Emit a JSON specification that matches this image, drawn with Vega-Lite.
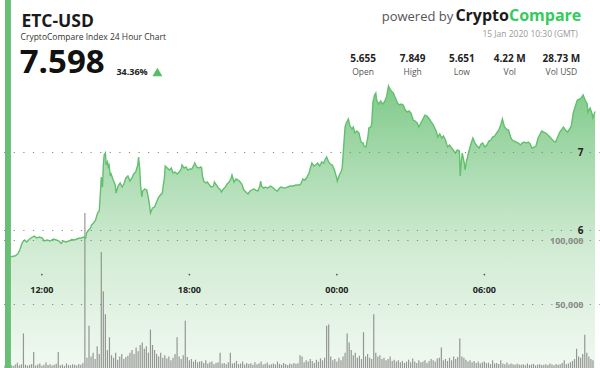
{
  "$schema": "https://vega.github.io/schema/vega-lite/v6.json",
  "width": 600,
  "height": 368,
  "autosize": {"type": "none"},
  "padding": 0,
  "background": "white",
  "config": {"view": {"stroke": null}, "font": "Open Sans", "axis": {"zindex": 1}},
  "datasets": {
    "price": [
      {"t":"2020-01-14T10:30Z","p":5.654},{"t":"2020-01-14T10:37Z","p":5.654},{"t":"2020-01-14T10:47Z","p":5.66},{"t":"2020-01-14T10:54Z","p":5.667},
      {"t":"2020-01-14T11:01Z","p":5.692},{"t":"2020-01-14T11:06Z","p":5.744},{"t":"2020-01-14T11:11Z","p":5.82},{"t":"2020-01-14T11:13Z","p":5.846},
      {"t":"2020-01-14T11:18Z","p":5.872},{"t":"2020-01-14T11:23Z","p":5.846},{"t":"2020-01-14T11:30Z","p":5.885},{"t":"2020-01-14T11:37Z","p":5.91},
      {"t":"2020-01-14T11:42Z","p":5.923},{"t":"2020-01-14T11:47Z","p":5.897},{"t":"2020-01-14T11:54Z","p":5.91},{"t":"2020-01-14T12:01Z","p":5.897},
      {"t":"2020-01-14T12:06Z","p":5.859},{"t":"2020-01-14T12:13Z","p":5.872},{"t":"2020-01-14T12:20Z","p":5.859},{"t":"2020-01-14T12:28Z","p":5.885},
      {"t":"2020-01-14T12:35Z","p":5.872},{"t":"2020-01-14T12:42Z","p":5.859},{"t":"2020-01-14T12:47Z","p":5.827},{"t":"2020-01-14T12:52Z","p":5.859},
      {"t":"2020-01-14T12:59Z","p":5.846},{"t":"2020-01-14T13:06Z","p":5.859},{"t":"2020-01-14T13:13Z","p":5.878},{"t":"2020-01-14T13:20Z","p":5.872},
      {"t":"2020-01-14T13:28Z","p":5.891},{"t":"2020-01-14T13:35Z","p":5.897},{"t":"2020-01-14T13:42Z","p":5.91},{"t":"2020-01-14T13:47Z","p":5.897},
      {"t":"2020-01-14T13:49Z","p":5.962},{"t":"2020-01-14T13:54Z","p":6.0},{"t":"2020-01-14T13:59Z","p":6.026},{"t":"2020-01-14T14:01Z","p":6.064},
      {"t":"2020-01-14T14:06Z","p":6.09},{"t":"2020-01-14T14:11Z","p":6.128},{"t":"2020-01-14T14:16Z","p":6.218},{"t":"2020-01-14T14:20Z","p":6.244},
      {"t":"2020-01-14T14:23Z","p":6.487},{"t":"2020-01-14T14:25Z","p":6.679},{"t":"2020-01-14T14:28Z","p":6.551},{"t":"2020-01-14T14:30Z","p":6.833},
      {"t":"2020-01-14T14:32Z","p":6.962},{"t":"2020-01-14T14:35Z","p":6.987},{"t":"2020-01-14T14:37Z","p":6.833},{"t":"2020-01-14T14:40Z","p":6.872},
      {"t":"2020-01-14T14:42Z","p":6.808},{"t":"2020-01-14T14:44Z","p":6.833},{"t":"2020-01-14T14:47Z","p":6.692},{"t":"2020-01-14T14:49Z","p":6.718},
      {"t":"2020-01-14T14:54Z","p":6.641},{"t":"2020-01-14T14:59Z","p":6.577},{"t":"2020-01-14T15:01Z","p":6.474},{"t":"2020-01-14T15:06Z","p":6.564},
      {"t":"2020-01-14T15:11Z","p":6.603},{"t":"2020-01-14T15:16Z","p":6.551},{"t":"2020-01-14T15:20Z","p":6.59},{"t":"2020-01-14T15:25Z","p":6.667},
      {"t":"2020-01-14T15:30Z","p":6.692},{"t":"2020-01-14T15:35Z","p":6.628},{"t":"2020-01-14T15:40Z","p":6.667},{"t":"2020-01-14T15:44Z","p":6.718},
      {"t":"2020-01-14T15:49Z","p":6.744},{"t":"2020-01-14T15:54Z","p":6.833},{"t":"2020-01-14T15:56Z","p":6.936},{"t":"2020-01-14T15:59Z","p":6.769},
      {"t":"2020-01-14T16:01Z","p":6.564},{"t":"2020-01-14T16:04Z","p":6.423},{"t":"2020-01-14T16:06Z","p":6.5},{"t":"2020-01-14T16:11Z","p":6.526},
      {"t":"2020-01-14T16:16Z","p":6.513},{"t":"2020-01-14T16:20Z","p":6.41},{"t":"2020-01-14T16:23Z","p":6.308},{"t":"2020-01-14T16:25Z","p":6.218},
      {"t":"2020-01-14T16:30Z","p":6.282},{"t":"2020-01-14T16:35Z","p":6.295},{"t":"2020-01-14T16:40Z","p":6.359},{"t":"2020-01-14T16:44Z","p":6.41},
      {"t":"2020-01-14T16:49Z","p":6.449},{"t":"2020-01-14T16:54Z","p":6.474},{"t":"2020-01-14T16:56Z","p":6.564},{"t":"2020-01-14T16:59Z","p":6.667},
      {"t":"2020-01-14T17:01Z","p":6.821},{"t":"2020-01-14T17:06Z","p":6.795},{"t":"2020-01-14T17:11Z","p":6.769},{"t":"2020-01-14T17:16Z","p":6.795},
      {"t":"2020-01-14T17:20Z","p":6.731},{"t":"2020-01-14T17:25Z","p":6.744},{"t":"2020-01-14T17:30Z","p":6.718},{"t":"2020-01-14T17:35Z","p":6.744},
      {"t":"2020-01-14T17:40Z","p":6.782},{"t":"2020-01-14T17:42Z","p":6.833},{"t":"2020-01-14T17:47Z","p":6.795},{"t":"2020-01-14T17:52Z","p":6.808},
      {"t":"2020-01-14T17:56Z","p":6.769},{"t":"2020-01-14T18:01Z","p":6.782},{"t":"2020-01-14T18:06Z","p":6.782},{"t":"2020-01-14T18:11Z","p":6.833},
      {"t":"2020-01-14T18:13Z","p":6.859},{"t":"2020-01-14T18:18Z","p":6.808},{"t":"2020-01-14T18:23Z","p":6.795},{"t":"2020-01-14T18:28Z","p":6.808},
      {"t":"2020-01-14T18:30Z","p":6.795},{"t":"2020-01-14T18:32Z","p":6.692},{"t":"2020-01-14T18:35Z","p":6.628},{"t":"2020-01-14T18:40Z","p":6.603},
      {"t":"2020-01-14T18:44Z","p":6.615},{"t":"2020-01-14T18:49Z","p":6.577},{"t":"2020-01-14T18:54Z","p":6.551},{"t":"2020-01-14T18:59Z","p":6.564},
      {"t":"2020-01-14T19:01Z","p":6.615},{"t":"2020-01-14T19:06Z","p":6.577},{"t":"2020-01-14T19:11Z","p":6.538},{"t":"2020-01-14T19:16Z","p":6.513},
      {"t":"2020-01-14T19:18Z","p":6.487},{"t":"2020-01-14T19:23Z","p":6.526},{"t":"2020-01-14T19:28Z","p":6.551},{"t":"2020-01-14T19:32Z","p":6.59},
      {"t":"2020-01-14T19:37Z","p":6.615},{"t":"2020-01-14T19:42Z","p":6.667},{"t":"2020-01-14T19:44Z","p":6.705},{"t":"2020-01-14T19:49Z","p":6.615},
      {"t":"2020-01-14T19:54Z","p":6.654},{"t":"2020-01-14T19:59Z","p":6.641},{"t":"2020-01-14T20:04Z","p":6.615},{"t":"2020-01-14T20:08Z","p":6.59},
      {"t":"2020-01-14T20:13Z","p":6.513},{"t":"2020-01-14T20:18Z","p":6.487},{"t":"2020-01-14T20:23Z","p":6.462},{"t":"2020-01-14T20:28Z","p":6.5},
      {"t":"2020-01-14T20:32Z","p":6.513},{"t":"2020-01-14T20:37Z","p":6.526},{"t":"2020-01-14T20:42Z","p":6.513},{"t":"2020-01-14T20:47Z","p":6.5},
      {"t":"2020-01-14T20:52Z","p":6.564},{"t":"2020-01-14T20:54Z","p":6.628},{"t":"2020-01-14T20:56Z","p":6.564},{"t":"2020-01-14T21:01Z","p":6.538},
      {"t":"2020-01-14T21:06Z","p":6.551},{"t":"2020-01-14T21:11Z","p":6.538},{"t":"2020-01-14T21:18Z","p":6.564},{"t":"2020-01-14T21:25Z","p":6.538},
      {"t":"2020-01-14T21:30Z","p":6.513},{"t":"2020-01-14T21:35Z","p":6.5},{"t":"2020-01-14T21:40Z","p":6.538},{"t":"2020-01-14T21:44Z","p":6.551},
      {"t":"2020-01-14T21:52Z","p":6.538},{"t":"2020-01-14T21:59Z","p":6.551},{"t":"2020-01-14T22:06Z","p":6.564},{"t":"2020-01-14T22:13Z","p":6.564},
      {"t":"2020-01-14T22:20Z","p":6.577},{"t":"2020-01-14T22:28Z","p":6.577},{"t":"2020-01-14T22:32Z","p":6.59},{"t":"2020-01-14T22:37Z","p":6.654},
      {"t":"2020-01-14T22:42Z","p":6.641},{"t":"2020-01-14T22:47Z","p":6.679},{"t":"2020-01-14T22:52Z","p":6.731},{"t":"2020-01-14T22:56Z","p":6.808},
      {"t":"2020-01-14T22:59Z","p":6.859},{"t":"2020-01-14T23:04Z","p":6.821},{"t":"2020-01-14T23:08Z","p":6.833},{"t":"2020-01-14T23:13Z","p":6.859},
      {"t":"2020-01-14T23:18Z","p":6.821},{"t":"2020-01-14T23:23Z","p":6.872},{"t":"2020-01-14T23:28Z","p":6.859},{"t":"2020-01-14T23:32Z","p":6.91},
      {"t":"2020-01-14T23:35Z","p":6.936},{"t":"2020-01-14T23:40Z","p":6.872},{"t":"2020-01-14T23:44Z","p":6.846},{"t":"2020-01-14T23:49Z","p":6.833},
      {"t":"2020-01-14T23:54Z","p":6.769},{"t":"2020-01-14T23:59Z","p":6.679},{"t":"2020-01-15T00:01Z","p":6.628},{"t":"2020-01-15T00:06Z","p":6.705},
      {"t":"2020-01-15T00:11Z","p":6.756},{"t":"2020-01-15T00:13Z","p":6.795},{"t":"2020-01-15T00:16Z","p":7.026},{"t":"2020-01-15T00:20Z","p":7.321},
      {"t":"2020-01-15T00:23Z","p":7.372},{"t":"2020-01-15T00:28Z","p":7.423},{"t":"2020-01-15T00:32Z","p":7.333},{"t":"2020-01-15T00:37Z","p":7.295},
      {"t":"2020-01-15T00:40Z","p":7.321},{"t":"2020-01-15T00:44Z","p":7.244},{"t":"2020-01-15T00:49Z","p":7.269},{"t":"2020-01-15T00:54Z","p":7.244},
      {"t":"2020-01-15T00:59Z","p":7.128},{"t":"2020-01-15T01:04Z","p":7.115},{"t":"2020-01-15T01:06Z","p":7.077},{"t":"2020-01-15T01:11Z","p":7.064},
      {"t":"2020-01-15T01:16Z","p":7.205},{"t":"2020-01-15T01:18Z","p":7.308},{"t":"2020-01-15T01:23Z","p":7.321},{"t":"2020-01-15T01:25Z","p":7.359},
      {"t":"2020-01-15T01:28Z","p":7.641},{"t":"2020-01-15T01:32Z","p":7.731},{"t":"2020-01-15T01:35Z","p":7.756},{"t":"2020-01-15T01:37Z","p":7.667},
      {"t":"2020-01-15T01:42Z","p":7.615},{"t":"2020-01-15T01:47Z","p":7.654},{"t":"2020-01-15T01:52Z","p":7.615},{"t":"2020-01-15T01:56Z","p":7.641},
      {"t":"2020-01-15T02:01Z","p":7.705},{"t":"2020-01-15T02:06Z","p":7.846},{"t":"2020-01-15T02:08Z","p":7.821},{"t":"2020-01-15T02:13Z","p":7.782},
      {"t":"2020-01-15T02:18Z","p":7.756},{"t":"2020-01-15T02:23Z","p":7.692},{"t":"2020-01-15T02:28Z","p":7.628},{"t":"2020-01-15T02:32Z","p":7.603},
      {"t":"2020-01-15T02:37Z","p":7.615},{"t":"2020-01-15T02:42Z","p":7.603},{"t":"2020-01-15T02:47Z","p":7.538},{"t":"2020-01-15T02:52Z","p":7.513},
      {"t":"2020-01-15T02:56Z","p":7.526},{"t":"2020-01-15T03:01Z","p":7.5},{"t":"2020-01-15T03:06Z","p":7.41},{"t":"2020-01-15T03:11Z","p":7.397},
      {"t":"2020-01-15T03:16Z","p":7.372},{"t":"2020-01-15T03:20Z","p":7.321},{"t":"2020-01-15T03:25Z","p":7.372},{"t":"2020-01-15T03:30Z","p":7.423},
      {"t":"2020-01-15T03:35Z","p":7.474},{"t":"2020-01-15T03:40Z","p":7.462},{"t":"2020-01-15T03:44Z","p":7.436},{"t":"2020-01-15T03:49Z","p":7.397},
      {"t":"2020-01-15T03:54Z","p":7.359},{"t":"2020-01-15T03:59Z","p":7.308},{"t":"2020-01-15T04:04Z","p":7.244},{"t":"2020-01-15T04:06Z","p":7.192},
      {"t":"2020-01-15T04:11Z","p":7.231},{"t":"2020-01-15T04:16Z","p":7.179},{"t":"2020-01-15T04:20Z","p":7.205},{"t":"2020-01-15T04:25Z","p":7.154},
      {"t":"2020-01-15T04:30Z","p":7.064},{"t":"2020-01-15T04:35Z","p":7.09},{"t":"2020-01-15T04:40Z","p":7.051},{"t":"2020-01-15T04:44Z","p":7.026},
      {"t":"2020-01-15T04:49Z","p":6.987},{"t":"2020-01-15T04:54Z","p":7.026},{"t":"2020-01-15T04:59Z","p":7.013},{"t":"2020-01-15T05:01Z","p":6.692},
      {"t":"2020-01-15T05:04Z","p":6.897},{"t":"2020-01-15T05:06Z","p":6.987},{"t":"2020-01-15T05:11Z","p":6.859},{"t":"2020-01-15T05:13Z","p":6.769},
      {"t":"2020-01-15T05:16Z","p":6.872},{"t":"2020-01-15T05:20Z","p":6.962},{"t":"2020-01-15T05:23Z","p":7.026},{"t":"2020-01-15T05:28Z","p":7.115},
      {"t":"2020-01-15T05:32Z","p":7.179},{"t":"2020-01-15T05:37Z","p":7.115},{"t":"2020-01-15T05:42Z","p":7.077},{"t":"2020-01-15T05:47Z","p":7.051},
      {"t":"2020-01-15T05:52Z","p":7.103},{"t":"2020-01-15T05:56Z","p":7.115},{"t":"2020-01-15T06:01Z","p":7.064},{"t":"2020-01-15T06:06Z","p":7.09},
      {"t":"2020-01-15T06:11Z","p":7.141},{"t":"2020-01-15T06:16Z","p":7.154},{"t":"2020-01-15T06:20Z","p":7.192},{"t":"2020-01-15T06:25Z","p":7.205},
      {"t":"2020-01-15T06:30Z","p":7.244},{"t":"2020-01-15T06:35Z","p":7.282},{"t":"2020-01-15T06:40Z","p":7.346},{"t":"2020-01-15T06:44Z","p":7.423},
      {"t":"2020-01-15T06:49Z","p":7.321},{"t":"2020-01-15T06:54Z","p":7.295},{"t":"2020-01-15T06:59Z","p":7.282},{"t":"2020-01-15T07:04Z","p":7.192},
      {"t":"2020-01-15T07:08Z","p":7.154},{"t":"2020-01-15T07:13Z","p":7.141},{"t":"2020-01-15T07:18Z","p":7.128},{"t":"2020-01-15T07:23Z","p":7.115},
      {"t":"2020-01-15T07:28Z","p":7.09},{"t":"2020-01-15T07:32Z","p":7.115},{"t":"2020-01-15T07:37Z","p":7.128},{"t":"2020-01-15T07:42Z","p":7.115},
      {"t":"2020-01-15T07:47Z","p":7.128},{"t":"2020-01-15T07:52Z","p":7.103},{"t":"2020-01-15T07:56Z","p":7.051},{"t":"2020-01-15T08:01Z","p":7.064},
      {"t":"2020-01-15T08:06Z","p":7.077},{"t":"2020-01-15T08:11Z","p":7.179},{"t":"2020-01-15T08:16Z","p":7.231},{"t":"2020-01-15T08:20Z","p":7.269},
      {"t":"2020-01-15T08:25Z","p":7.256},{"t":"2020-01-15T08:30Z","p":7.244},{"t":"2020-01-15T08:35Z","p":7.218},{"t":"2020-01-15T08:40Z","p":7.192},
      {"t":"2020-01-15T08:44Z","p":7.167},{"t":"2020-01-15T08:49Z","p":7.141},{"t":"2020-01-15T08:54Z","p":7.128},{"t":"2020-01-15T08:59Z","p":7.192},
      {"t":"2020-01-15T09:04Z","p":7.256},{"t":"2020-01-15T09:08Z","p":7.282},{"t":"2020-01-15T09:13Z","p":7.321},{"t":"2020-01-15T09:18Z","p":7.282},
      {"t":"2020-01-15T09:23Z","p":7.256},{"t":"2020-01-15T09:28Z","p":7.295},{"t":"2020-01-15T09:32Z","p":7.333},{"t":"2020-01-15T09:37Z","p":7.5},
      {"t":"2020-01-15T09:42Z","p":7.59},{"t":"2020-01-15T09:47Z","p":7.667},{"t":"2020-01-15T09:52Z","p":7.679},{"t":"2020-01-15T09:56Z","p":7.692},
      {"t":"2020-01-15T10:01Z","p":7.731},{"t":"2020-01-15T10:06Z","p":7.667},{"t":"2020-01-15T10:11Z","p":7.615},{"t":"2020-01-15T10:13Z","p":7.513},
      {"t":"2020-01-15T10:18Z","p":7.564},{"t":"2020-01-15T10:23Z","p":7.487},{"t":"2020-01-15T10:25Z","p":7.436},{"t":"2020-01-15T10:30Z","p":7.52}
    ],
    "vol": [
      {"t":"2020-01-14T10:30Z","v":2100},{"t":"2020-01-14T10:35Z","v":1800},{"t":"2020-01-14T10:40Z","v":3200},{"t":"2020-01-14T10:45Z","v":2500},{"t":"2020-01-14T10:50Z","v":1600},{"t":"2020-01-14T10:55Z","v":2800},
      {"t":"2020-01-14T11:00Z","v":4100},{"t":"2020-01-14T11:05Z","v":2200},{"t":"2020-01-14T11:10Z","v":3000},{"t":"2020-01-14T11:15Z","v":27000},{"t":"2020-01-14T11:20Z","v":2600},{"t":"2020-01-14T11:25Z","v":1900},
      {"t":"2020-01-14T11:30Z","v":2400},{"t":"2020-01-14T11:35Z","v":3100},{"t":"2020-01-14T11:40Z","v":12500},{"t":"2020-01-14T11:45Z","v":2000},{"t":"2020-01-14T11:50Z","v":2700},{"t":"2020-01-14T11:55Z","v":3500},
      {"t":"2020-01-14T12:00Z","v":1800},{"t":"2020-01-14T12:05Z","v":2600},{"t":"2020-01-14T12:10Z","v":4200},{"t":"2020-01-14T12:15Z","v":2300},{"t":"2020-01-14T12:20Z","v":3000},{"t":"2020-01-14T12:25Z","v":1900},
      {"t":"2020-01-14T12:30Z","v":2500},{"t":"2020-01-14T12:35Z","v":3300},{"t":"2020-01-14T12:40Z","v":12500},{"t":"2020-01-14T12:45Z","v":2200},{"t":"2020-01-14T12:50Z","v":2800},{"t":"2020-01-14T12:55Z","v":1700},
      {"t":"2020-01-14T13:00Z","v":3600},{"t":"2020-01-14T13:05Z","v":2400},{"t":"2020-01-14T13:10Z","v":2100},{"t":"2020-01-14T13:15Z","v":3000},{"t":"2020-01-14T13:20Z","v":2600},{"t":"2020-01-14T13:25Z","v":1900},
      {"t":"2020-01-14T13:30Z","v":3200},{"t":"2020-01-14T13:35Z","v":2500},{"t":"2020-01-14T13:40Z","v":4000},{"t":"2020-01-14T13:45Z","v":121000},{"t":"2020-01-14T13:50Z","v":8000},{"t":"2020-01-14T13:55Z","v":33000},
      {"t":"2020-01-14T14:00Z","v":9000},{"t":"2020-01-14T14:05Z","v":12000},{"t":"2020-01-14T14:10Z","v":7000},{"t":"2020-01-14T14:15Z","v":17000},{"t":"2020-01-14T14:20Z","v":11000},{"t":"2020-01-14T14:25Z","v":90600},
      {"t":"2020-01-14T14:30Z","v":60000},{"t":"2020-01-14T14:35Z","v":42000},{"t":"2020-01-14T14:40Z","v":14000},{"t":"2020-01-14T14:45Z","v":24000},{"t":"2020-01-14T14:50Z","v":10000},{"t":"2020-01-14T14:55Z","v":8000},
      {"t":"2020-01-14T15:00Z","v":12000},{"t":"2020-01-14T15:05Z","v":6500},{"t":"2020-01-14T15:10Z","v":9000},{"t":"2020-01-14T15:15Z","v":11000},{"t":"2020-01-14T15:20Z","v":7000},{"t":"2020-01-14T15:25Z","v":8500},
      {"t":"2020-01-14T15:30Z","v":9500},{"t":"2020-01-14T15:35Z","v":12000},{"t":"2020-01-14T15:40Z","v":14000},{"t":"2020-01-14T15:45Z","v":11000},{"t":"2020-01-14T15:50Z","v":16000},{"t":"2020-01-14T15:55Z","v":13000},
      {"t":"2020-01-14T16:00Z","v":18000},{"t":"2020-01-14T16:05Z","v":20000},{"t":"2020-01-14T16:10Z","v":15000},{"t":"2020-01-14T16:15Z","v":17000},{"t":"2020-01-14T16:20Z","v":12000},{"t":"2020-01-14T16:25Z","v":30000},
      {"t":"2020-01-14T16:30Z","v":18000},{"t":"2020-01-14T16:35Z","v":14000},{"t":"2020-01-14T16:40Z","v":11000},{"t":"2020-01-14T16:45Z","v":9000},{"t":"2020-01-14T16:50Z","v":12000},{"t":"2020-01-14T16:55Z","v":8000},
      {"t":"2020-01-14T17:00Z","v":10000},{"t":"2020-01-14T17:05Z","v":7500},{"t":"2020-01-14T17:10Z","v":9000},{"t":"2020-01-14T17:15Z","v":6000},{"t":"2020-01-14T17:20Z","v":8000},{"t":"2020-01-14T17:25Z","v":11000},
      {"t":"2020-01-14T17:30Z","v":24000},{"t":"2020-01-14T17:35Z","v":9000},{"t":"2020-01-14T17:40Z","v":7000},{"t":"2020-01-14T17:45Z","v":10000},{"t":"2020-01-14T17:50Z","v":37000},{"t":"2020-01-14T17:55Z","v":8500},
      {"t":"2020-01-14T18:00Z","v":6000},{"t":"2020-01-14T18:05Z","v":7000},{"t":"2020-01-14T18:10Z","v":5000},{"t":"2020-01-14T18:15Z","v":6500},{"t":"2020-01-14T18:20Z","v":4500},{"t":"2020-01-14T18:25Z","v":5000},
      {"t":"2020-01-14T18:30Z","v":5500},{"t":"2020-01-14T18:35Z","v":4000},{"t":"2020-01-14T18:40Z","v":6000},{"t":"2020-01-14T18:45Z","v":3500},{"t":"2020-01-14T18:50Z","v":4500},{"t":"2020-01-14T18:55Z","v":5000},
      {"t":"2020-01-14T19:00Z","v":3000},{"t":"2020-01-14T19:05Z","v":4000},{"t":"2020-01-14T19:10Z","v":4500},{"t":"2020-01-14T19:15Z","v":12000},{"t":"2020-01-14T19:20Z","v":3500},{"t":"2020-01-14T19:25Z","v":4000},
      {"t":"2020-01-14T19:30Z","v":3000},{"t":"2020-01-14T19:35Z","v":4500},{"t":"2020-01-14T19:40Z","v":12000},{"t":"2020-01-14T19:45Z","v":3500},{"t":"2020-01-14T19:50Z","v":4000},{"t":"2020-01-14T19:55Z","v":5500},
      {"t":"2020-01-14T20:00Z","v":3000},{"t":"2020-01-14T20:05Z","v":3500},{"t":"2020-01-14T20:10Z","v":5000},{"t":"2020-01-14T20:15Z","v":2800},{"t":"2020-01-14T20:20Z","v":4000},{"t":"2020-01-14T20:25Z","v":3200},
      {"t":"2020-01-14T20:30Z","v":3800},{"t":"2020-01-14T20:35Z","v":2600},{"t":"2020-01-14T20:40Z","v":4500},{"t":"2020-01-14T20:45Z","v":3000},{"t":"2020-01-14T20:50Z","v":3500},{"t":"2020-01-14T20:55Z","v":5000},
      {"t":"2020-01-14T21:00Z","v":2700},{"t":"2020-01-14T21:05Z","v":3300},{"t":"2020-01-14T21:10Z","v":4200},{"t":"2020-01-14T21:15Z","v":2500},{"t":"2020-01-14T21:20Z","v":3000},{"t":"2020-01-14T21:25Z","v":3600},
      {"t":"2020-01-14T21:30Z","v":2800},{"t":"2020-01-14T21:35Z","v":5000},{"t":"2020-01-14T21:40Z","v":3200},{"t":"2020-01-14T21:45Z","v":2600},{"t":"2020-01-14T21:50Z","v":3900},{"t":"2020-01-14T21:55Z","v":3000},
      {"t":"2020-01-14T22:00Z","v":2400},{"t":"2020-01-14T22:05Z","v":3500},{"t":"2020-01-14T22:10Z","v":2900},{"t":"2020-01-14T22:15Z","v":4000},{"t":"2020-01-14T22:20Z","v":3300},{"t":"2020-01-14T22:25Z","v":3800},
      {"t":"2020-01-14T22:30Z","v":10000},{"t":"2020-01-14T22:35Z","v":9000},{"t":"2020-01-14T22:40Z","v":4500},{"t":"2020-01-14T22:45Z","v":6000},{"t":"2020-01-14T22:50Z","v":5000},{"t":"2020-01-14T22:55Z","v":7000},
      {"t":"2020-01-14T23:00Z","v":5500},{"t":"2020-01-14T23:05Z","v":4000},{"t":"2020-01-14T23:10Z","v":6500},{"t":"2020-01-14T23:15Z","v":5000},{"t":"2020-01-14T23:20Z","v":7500},{"t":"2020-01-14T23:25Z","v":6000},
      {"t":"2020-01-14T23:30Z","v":8000},{"t":"2020-01-14T23:35Z","v":33000},{"t":"2020-01-14T23:40Z","v":34000},{"t":"2020-01-14T23:45Z","v":9000},{"t":"2020-01-14T23:50Z","v":6000},{"t":"2020-01-14T23:55Z","v":7000},
      {"t":"2020-01-15T00:00Z","v":5000},{"t":"2020-01-15T00:05Z","v":8000},{"t":"2020-01-15T00:10Z","v":6000},{"t":"2020-01-15T00:15Z","v":9000},{"t":"2020-01-15T00:20Z","v":12000},{"t":"2020-01-15T00:25Z","v":27000},
      {"t":"2020-01-15T00:30Z","v":20000},{"t":"2020-01-15T00:35Z","v":14000},{"t":"2020-01-15T00:40Z","v":10000},{"t":"2020-01-15T00:45Z","v":12000},{"t":"2020-01-15T00:50Z","v":8000},{"t":"2020-01-15T00:55Z","v":9500},
      {"t":"2020-01-15T01:00Z","v":7000},{"t":"2020-01-15T01:05Z","v":28000},{"t":"2020-01-15T01:10Z","v":9000},{"t":"2020-01-15T01:15Z","v":11000},{"t":"2020-01-15T01:20Z","v":8000},{"t":"2020-01-15T01:25Z","v":7000},
      {"t":"2020-01-15T01:30Z","v":42000},{"t":"2020-01-15T01:35Z","v":12000},{"t":"2020-01-15T01:40Z","v":9000},{"t":"2020-01-15T01:45Z","v":10000},{"t":"2020-01-15T01:50Z","v":7000},{"t":"2020-01-15T01:55Z","v":8000},
      {"t":"2020-01-15T02:00Z","v":6000},{"t":"2020-01-15T02:05Z","v":7000},{"t":"2020-01-15T02:10Z","v":9000},{"t":"2020-01-15T02:15Z","v":5500},{"t":"2020-01-15T02:20Z","v":6500},{"t":"2020-01-15T02:25Z","v":5000},
      {"t":"2020-01-15T02:30Z","v":6000},{"t":"2020-01-15T02:35Z","v":4500},{"t":"2020-01-15T02:40Z","v":5500},{"t":"2020-01-15T02:45Z","v":4000},{"t":"2020-01-15T02:50Z","v":5000},{"t":"2020-01-15T02:55Z","v":6500},
      {"t":"2020-01-15T03:00Z","v":4500},{"t":"2020-01-15T03:05Z","v":7500},{"t":"2020-01-15T03:10Z","v":5000},{"t":"2020-01-15T03:15Z","v":4000},{"t":"2020-01-15T03:20Z","v":6000},{"t":"2020-01-15T03:25Z","v":4500},
      {"t":"2020-01-15T03:30Z","v":5000},{"t":"2020-01-15T03:35Z","v":6000},{"t":"2020-01-15T03:40Z","v":4000},{"t":"2020-01-15T03:45Z","v":5500},{"t":"2020-01-15T03:50Z","v":7000},{"t":"2020-01-15T03:55Z","v":6000},
      {"t":"2020-01-15T04:00Z","v":5000},{"t":"2020-01-15T04:05Z","v":7500},{"t":"2020-01-15T04:10Z","v":8000},{"t":"2020-01-15T04:15Z","v":16000},{"t":"2020-01-15T04:20Z","v":6000},{"t":"2020-01-15T04:25Z","v":7000},
      {"t":"2020-01-15T04:30Z","v":5500},{"t":"2020-01-15T04:35Z","v":8000},{"t":"2020-01-15T04:40Z","v":6000},{"t":"2020-01-15T04:45Z","v":9000},{"t":"2020-01-15T04:50Z","v":7000},{"t":"2020-01-15T04:55Z","v":8500},
      {"t":"2020-01-15T05:00Z","v":23000},{"t":"2020-01-15T05:05Z","v":9000},{"t":"2020-01-15T05:10Z","v":8000},{"t":"2020-01-15T05:15Z","v":6500},{"t":"2020-01-15T05:20Z","v":5000},{"t":"2020-01-15T05:25Z","v":6000},
      {"t":"2020-01-15T05:30Z","v":4500},{"t":"2020-01-15T05:35Z","v":5500},{"t":"2020-01-15T05:40Z","v":4000},{"t":"2020-01-15T05:45Z","v":5000},{"t":"2020-01-15T05:50Z","v":3500},{"t":"2020-01-15T05:55Z","v":4500},
      {"t":"2020-01-15T06:00Z","v":5000},{"t":"2020-01-15T06:05Z","v":3800},{"t":"2020-01-15T06:10Z","v":4200},{"t":"2020-01-15T06:15Z","v":3000},{"t":"2020-01-15T06:20Z","v":6000},{"t":"2020-01-15T06:25Z","v":3500},
      {"t":"2020-01-15T06:30Z","v":4000},{"t":"2020-01-15T06:35Z","v":3200},{"t":"2020-01-15T06:40Z","v":6000},{"t":"2020-01-15T06:45Z","v":3500},{"t":"2020-01-15T06:50Z","v":3000},{"t":"2020-01-15T06:55Z","v":4200},
      {"t":"2020-01-15T07:00Z","v":2800},{"t":"2020-01-15T07:05Z","v":3600},{"t":"2020-01-15T07:10Z","v":3000},{"t":"2020-01-15T07:15Z","v":2500},{"t":"2020-01-15T07:20Z","v":3400},{"t":"2020-01-15T07:25Z","v":2800},
      {"t":"2020-01-15T07:30Z","v":2600},{"t":"2020-01-15T07:35Z","v":3000},{"t":"2020-01-15T07:40Z","v":2200},{"t":"2020-01-15T07:45Z","v":3500},{"t":"2020-01-15T07:50Z","v":2400},{"t":"2020-01-15T07:55Z","v":2800},
      {"t":"2020-01-15T08:00Z","v":3200},{"t":"2020-01-15T08:05Z","v":2000},{"t":"2020-01-15T08:10Z","v":2700},{"t":"2020-01-15T08:15Z","v":3000},{"t":"2020-01-15T08:20Z","v":2300},{"t":"2020-01-15T08:25Z","v":2600},
      {"t":"2020-01-15T08:30Z","v":3000},{"t":"2020-01-15T08:35Z","v":2400},{"t":"2020-01-15T08:40Z","v":3600},{"t":"2020-01-15T08:45Z","v":2800},{"t":"2020-01-15T08:50Z","v":2200},{"t":"2020-01-15T08:55Z","v":3200},
      {"t":"2020-01-15T09:00Z","v":2600},{"t":"2020-01-15T09:05Z","v":3000},{"t":"2020-01-15T09:10Z","v":4000},{"t":"2020-01-15T09:15Z","v":6000},{"t":"2020-01-15T09:20Z","v":3000},{"t":"2020-01-15T09:25Z","v":3500},
      {"t":"2020-01-15T09:30Z","v":4500},{"t":"2020-01-15T09:35Z","v":5500},{"t":"2020-01-15T09:40Z","v":7000},{"t":"2020-01-15T09:45Z","v":15000},{"t":"2020-01-15T09:50Z","v":9000},{"t":"2020-01-15T09:55Z","v":8000},
      {"t":"2020-01-15T10:00Z","v":11000},{"t":"2020-01-15T10:05Z","v":26000},{"t":"2020-01-15T10:10Z","v":12000},{"t":"2020-01-15T10:15Z","v":9000},{"t":"2020-01-15T10:20Z","v":7000},{"t":"2020-01-15T10:25Z","v":6000}
    ],
    "hours": [
      {"t":"2020-01-14T12:00Z","label":"12:00"},
      {"t":"2020-01-14T18:00Z","label":"18:00"},
      {"t":"2020-01-15T00:00Z","label":"00:00"},
      {"t":"2020-01-15T06:00Z","label":"06:00"}
    ]
  },
  "resolve": {"scale": {"y": "independent"}},
  "layer": [
    {
      "data": {"name": "price"},
      "mark": {
        "type": "area",
        "color": {
          "x1": 0, "y1": 0, "x2": 0, "y2": 1, "gradient": "linear",
          "stops": [
            {"offset": 0, "color": "#80ca8a"},
            {"offset": 0.3, "color": "#acdcb2"},
            {"offset": 0.6, "color": "#d3ecd5"},
            {"offset": 1, "color": "#f1f9f1"}
          ]
        }
      },
      "encoding": {
        "x": {
          "field": "t", "type": "temporal",
          "scale": {"type": "utc", "domain": [1578997800000, 1579084200000]},
          "axis": null
        },
        "y": {
          "field": "p", "type": "quantitative",
          "scale": {"domain": [4.231, 8.949], "nice": false, "zero": false},
          "axis": {
            "orient": "right", "offset": -17, "title": null, "values": [6, 7],
            "domain": false, "ticks": false, "tickSize": 0,
            "grid": true, "gridDash": [1.2, 8.4], "gridColor": "#888", "gridWidth": 1,
            "labelAlign": "right", "labelPadding": 0, "labelFont": "Open Sans",
            "labelFontSize": 10, "labelFontWeight": "bold", "labelColor": "#222", "zindex": 1
          }
        },
        "y2": {"datum": 4.231}
      }
    },
    {
      "data": {"name": "vol"},
      "mark": {"type": "bar", "width": 1.2, "color": "#858585", "opacity": 0.85},
      "encoding": {
        "x": {"field": "t", "type": "temporal", "scale": {"type": "utc", "domain": [1578997800000, 1579084200000]}, "axis": null},
        "y": {
          "field": "v", "type": "quantitative",
          "scale": {"domain": [0, 287500], "nice": false},
          "axis": {
            "orient": "right", "offset": -17, "title": null, "values": [50000, 100000],
            "labelExpr": "format(datum.value, ',')",
            "domain": false, "ticks": false, "tickSize": 0,
            "grid": true, "gridDash": [1.2, 8.4], "gridColor": "#888", "gridWidth": 1,
            "labelAlign": "right", "labelPadding": 0, "labelFont": "Open Sans",
            "labelFontSize": 9, "labelFontWeight": "bold", "labelColor": "#8a8a8a", "zindex": 1
          }
        }
      }
    },
    {
      "encoding": {
        "x": {"field": "t", "type": "temporal", "scale": {"type": "utc", "domain": [1578997800000, 1579084200000]}, "axis": null},
        "y": {"field": "p", "type": "quantitative", "scale": {"domain": [4.231, 8.949], "nice": false, "zero": false}, "axis": null}
      },
      "layer": [
        {
          "data": {"name": "price"},
          "mark": {"type": "line", "color": "#62c06d", "strokeWidth": 1.4}
        },
        {
          "data": {"values": [{"t": "2020-01-14T10:30Z", "t2": "2020-01-14T10:44:30Z", "p": 8.949, "p2": 4.231}]},
          "mark": {"type": "rect", "color": "#69bf75"},
          "encoding": {"x2": {"field": "t2"}, "y2": {"field": "p2"}}
        },
        {
          "data": {"values": [{"t": "2020-01-14T11:10Z", "p": 8.673, "label": "ETC-USD"}]},
          "mark": {"type": "text", "align": "left", "baseline": "middle", "font": "Open Sans", "fontSize": 17.5, "fontWeight": "bold", "color": "#1b1b1b"},
          "encoding": {"text": {"field": "label"}}
        },
        {
          "data": {"values": [{"t": "2020-01-14T11:08Z", "p": 8.472, "label": "CryptoCompare Index 24 Hour Chart"}]},
          "mark": {"type": "text", "align": "left", "baseline": "middle", "font": "Open Sans", "fontSize": 8.5, "color": "#333"},
          "encoding": {"text": {"field": "label"}}
        },
        {
          "data": {"values": [{"t": "2020-01-14T11:06Z", "p": 8.137, "label": "7.598"}]},
          "mark": {"type": "text", "align": "left", "baseline": "middle", "font": "Open Sans", "fontSize": 33, "fontWeight": "bold", "color": "#111"},
          "encoding": {"text": {"field": "label"}}
        },
        {
          "data": {"values": [{"t": "2020-01-14T15:02Z", "p": 8.026, "label": "34.36%"}]},
          "mark": {"type": "text", "align": "left", "baseline": "middle", "font": "Open Sans", "fontSize": 9, "fontWeight": "bold", "color": "#222"},
          "encoding": {"text": {"field": "label"}}
        },
        {
          "data": {"values": [{"t": "2020-01-14T16:42Z", "p": 8.026}]},
          "mark": {"type": "point", "shape": "triangle-up", "filled": true, "size": 100, "color": "#55bf68", "opacity": 1}
        },
        {
          "data": {"values": [{"t": "2020-01-15T04:44Z", "p": 8.733, "label": "powered by"}]},
          "mark": {"type": "text", "align": "right", "baseline": "middle", "font": "Open Sans", "fontSize": 13, "color": "#555"},
          "encoding": {"text": {"field": "label"}}
        },
        {
          "data": {"values": [{"t": "2020-01-15T07:00Z", "p": 8.743, "label": "Crypto"}]},
          "mark": {"type": "text", "align": "right", "baseline": "middle", "font": "Open Sans", "fontSize": 16, "fontWeight": "bold", "color": "#1b1b1b"},
          "encoding": {"text": {"field": "label"}}
        },
        {
          "data": {"values": [{"t": "2020-01-15T07:00Z", "p": 8.743, "label": "Compare"}]},
          "mark": {"type": "text", "align": "left", "baseline": "middle", "font": "Open Sans", "fontSize": 16, "fontWeight": "bold", "color": "#33cc5c"},
          "encoding": {"text": {"field": "label"}}
        },
        {
          "data": {"values": [{"t": "2020-01-15T09:48Z", "p": 8.519, "label": "15 Jan 2020 10:30 (GMT)"}]},
          "mark": {"type": "text", "align": "right", "baseline": "middle", "font": "Open Sans", "fontSize": 8.5, "color": "#999"},
          "encoding": {"text": {"field": "label"}}
        },
        {
          "data": {"values": [
            {"t": "2020-01-15T01:04Z", "p": 8.196, "label": "5.655"},
            {"t": "2020-01-15T03:05Z", "p": 8.196, "label": "7.849"},
            {"t": "2020-01-15T05:05Z", "p": 8.196, "label": "5.651"},
            {"t": "2020-01-15T07:02Z", "p": 8.196, "label": "4.22 M"},
            {"t": "2020-01-15T09:08Z", "p": 8.196, "label": "28.73 M"}
          ]},
          "mark": {"type": "text", "align": "center", "baseline": "middle", "font": "Open Sans", "fontSize": 10, "fontWeight": "bold", "color": "#222"},
          "encoding": {"text": {"field": "label"}}
        },
        {
          "data": {"values": [
            {"t": "2020-01-15T01:04Z", "p": 8.032, "label": "Open"},
            {"t": "2020-01-15T03:05Z", "p": 8.032, "label": "High"},
            {"t": "2020-01-15T05:05Z", "p": 8.032, "label": "Low"},
            {"t": "2020-01-15T07:02Z", "p": 8.032, "label": "Vol"},
            {"t": "2020-01-15T09:08Z", "p": 8.032, "label": "Vol USD"}
          ]},
          "mark": {"type": "text", "align": "center", "baseline": "middle", "font": "Open Sans", "fontSize": 8.5, "color": "#555"},
          "encoding": {"text": {"field": "label"}}
        }
      ]
    },
    {
      "data": {"name": "hours"},
      "encoding": {
        "x": {"field": "t", "type": "temporal", "scale": {"type": "utc", "domain": [1578997800000, 1579084200000]}, "axis": null}
      },
      "layer": [
        {
          "mark": {"type": "point", "shape": "circle", "filled": true, "size": 3, "color": "#555", "opacity": 1},
          "encoding": {"y": {"datum": 5.429, "type": "quantitative", "scale": {"domain": [4.231, 8.949], "nice": false, "zero": false}, "axis": null}}
        },
        {
          "mark": {"type": "text", "align": "center", "baseline": "middle", "font": "Open Sans", "fontSize": 9, "fontWeight": "bold", "color": "#222"},
          "encoding": {
            "y": {"datum": 5.235, "type": "quantitative", "scale": {"domain": [4.231, 8.949], "nice": false, "zero": false}, "axis": null},
            "text": {"field": "label"}
          }
        }
      ]
    }
  ]
}
